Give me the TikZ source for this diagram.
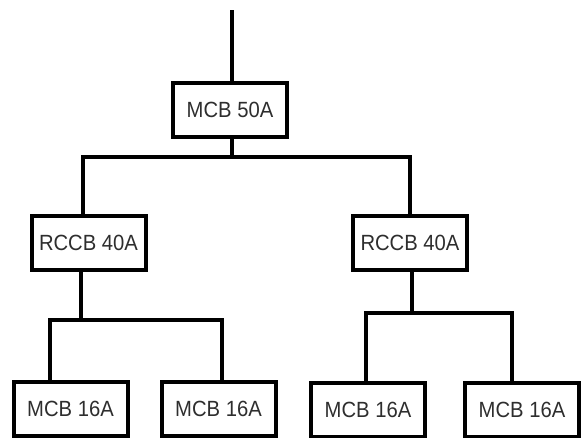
\documentclass[tikz,border=0pt]{standalone}
\usepackage{fontspec}
\setmainfont{Liberation Sans}
\definecolor{txt}{HTML}{2E2E2E}
\newcommand{\lbl}[1]{\scalebox{0.92}[1]{#1}}
\begin{document}
\begin{tikzpicture}[x=1pt,y=1pt,
  brk/.style={draw=black, line width=4pt, inner sep=0pt, minimum width=114pt, minimum height=54pt,
    text=txt, font=\fontsize{22}{24}\selectfont},
  wire/.style={draw=black, line width=4pt, line join=miter}]
\useasboundingbox (0,0) rectangle (583,-437);
\node[brk] (mcb50) at (230,-109.5) {\lbl{MCB 50A}};
\node[brk] (rccbL) at (88.5,-242.5) {\lbl{RCCB 40A}};
\node[brk] (rccbR) at (410,-242.5) {\lbl{RCCB 40A}};
\node[brk] (b1) at (70.5,-408.5) {\lbl{MCB 16A}};
\node[brk] (b2) at (218.5,-408.5) {\lbl{MCB 16A}};
\node[brk] (b3) at (368,-410) {\lbl{MCB 16A}};
\node[brk] (b4) at (522,-410) {\lbl{MCB 16A}};
\coordinate (feed) at (232,-10);
\coordinate (busL) at (83,-157);
\coordinate (busR) at (410,-157);
\coordinate (lL) at (50,-320);
\coordinate (lR) at (222,-320);
\coordinate (rL) at (366,-313);
\coordinate (rR) at (512,-313);
% feed into main MCB
\draw[wire] (feed) -- (feed |- mcb50.north);
% main bus
\draw[wire] (mcb50.south -| feed) -- (feed |- busL);
\draw[wire] (busL |- rccbL.north) -- (busL) -- (busR) -- (rccbR.north);
% left branch
\draw[wire] (rccbL.south -| 81,0) -- (81,-320);
\draw[wire] (lL |- b1.north) -- (lL) -- (lR) -- (lR |- b2.north);
% right branch
\draw[wire] (rccbR.south -| 412,0) -- (412,-313);
\draw[wire] (rL |- b3.north) -- (rL) -- (rR) -- (rR |- b4.north);
\end{tikzpicture}
\end{document}
